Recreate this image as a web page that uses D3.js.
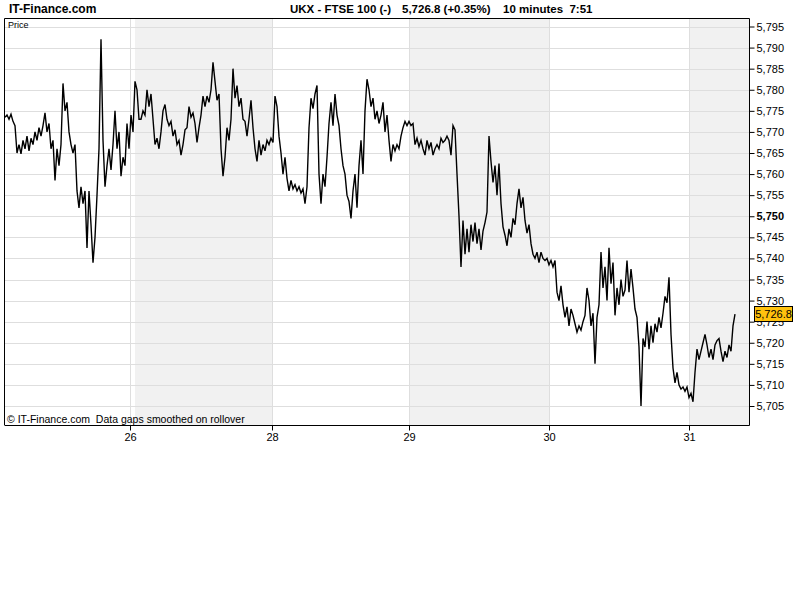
<!DOCTYPE html>
<html>
<head>
<meta charset="utf-8">
<script src="https://cdn.jsdelivr.net/npm/d3@7"></script>
<style>
body { margin: 0; background: #fff; }
text { font-family: "Liberation Sans", Arial, sans-serif; white-space: pre; }
</style>
</head>
<body>
<div id="chart"></div>
<script>
// 10 minute FTSE 100 prices, one sample every 2px, split by session
const s25 = [5773.5,5774,5773,5774.2,5772.5,5771.5,5765,5767,5764.8,5768,5766,5769,5765.5,5768.5,5767,
  5770,5768,5771,5769,5771.5,5774.5,5770,5772,5766,5768,5758.5,5766,5762,5767,
  5781.5,5775,5777,5770,5767,5765,5767,5756,5752,5757,5753,5756,5742.5,5756,5748,5739,5745,5755,5766,
  5792,5768,5757,5762,5766,5761,5767,5775,5766,5770,5759.5,5764,5762,5772,5766,5774,5770,5782];
const s26 = [5780,5773,5773,5775,5774,5780,5776,5779,5773,5767,5768.5,5766,5770,5775,5776.5,5773,5771.5,5772.5,5769,5770.5,
  5767,5768,5764.5,5767,5770.5,5771,5776,5773.5,5774.5,5772,5767.5,5771,
  5774,5778.5,5776,5778.5,5777,5780,5786.5,5782,5777.5,5779,5766,5759.5,5764,5771,5768,5773,5785,5778,5781,5776,
  5778,5773,5772.5,5769,5773,5777.5,5771,5766,5763,5768,5764.5,5767,5765.5,5768,5767,5768.5,5767.5];
const s28 = [5778.5,5776,5769,5765,5760,5764,5759,5756,5758.5,5756.5,5757.5,5756,5757,5755.5,5756.5,5753,5757,5771,5778,5775.5,
  5779,5781,5760,5753,5760,5757,5764,5772,5777,5771.5,5779,5774,5771.5,5766,5762,5760,5755,5753.5,5749.5,5756,
  5760,5752,5762,5768,5760,5775,5782.5,5780,5776,5778,5773,5775,5772,5774,5777,5770,5774,5768,5763,5767,
  5765.5,5767,5766,5769,5771,5772.5,5771.5,5772.5];
const s29 = [5771.5,5772,5767,5768.5,5766.5,5768,5766,5764.5,5768,5766,5767.5,5764.5,5766,5767,5766,5768.5,5767.5,5768,5769,5768,
  5764.5,5771.5,5770.5,5760,5750,5738,5749,5741,5747,5741.5,5748,5744,5748.5,5743.5,5747,5742,5746.5,5748.5,5751,5769,
  5763,5758,5762,5755,5762.5,5753,5747.5,5745.5,5743,5747,5745,5749.5,5748,5753,5756.5,5752,5754.5,5749,5746,5748,
  5743.5,5741,5740,5741.5,5739,5741.5,5740,5739.5,5740,5738.5];
const s30 = [5739.5,5738,5739.5,5732,5730,5733.5,5729,5726,5728.5,5724,5728,5726.5,5724.5,5722.5,5724,5723,5725,5726.5,5733,5730,
  5724,5727,5715,5726,5729,5741.5,5733,5738,5730,5742.5,5734,5739,5726.5,5733,5729,5735,5731,5732.5,5739.5,5732,
  5737.5,5733,5728,5726,5719,5705,5721,5719,5725,5718.5,5724,5720,5724.5,5722.5,5726,5723.5,5727,5731,5729.5,5735.5,
  5722,5714,5710.5,5713,5710,5709,5709.5,5708.5,5709.5,5707];
const s31 = [5708,5706,5713,5718.5,5716,5718,5720,5722,5719.5,5716.5,5718.5,5716,5719.5,5720.5,5721,5718,5715.5,5718,5716.5,5719.5,
  5718,5724,5726.8];

const prices = [].concat(s25, s26, s28, s29, s30, s31);
const lastPrice = 5726.8;

// day ticks, in sample positions
const dayTicks = [62.5, 133.5, 202, 272, 342];
const dayLabels = ["26", "28", "29", "30", "31"];
const shadedDays = [[65, 133.5], [202, 272], [342, 372]];

const priceTicks = [5705,5710,5715,5720,5725,5730,5735,5740,5745,5750,5755,5760,5765,5770,5775,5780,5785,5790,5795];

const plotLeft = 4, plotRight = 749, plotTop = 18, plotBottom = 425;

const svg = d3.select("#chart").append("svg")
    .attr("width", 800)
    .attr("height", 600);

svg.append("rect").attr("width", 800).attr("height", 600).attr("fill", "#fff");

const x = d3.scaleLinear().domain([0, prices.length - 1]).range([5, 735]);
const y = d3.scaleLinear().domain([5705, 5795]).range([406, 26.5]);

svg.append("clipPath").attr("id", "plot")
  .append("rect")
    .attr("x", plotLeft).attr("y", plotTop)
    .attr("width", plotRight - plotLeft).attr("height", plotBottom - plotTop);

const plot = svg.append("g").attr("clip-path", "url(#plot)");

plot.selectAll(".shade")
    .data(shadedDays)
  .enter().append("rect")
    .attr("class", "shade")
    .attr("x", d => Math.round(x(d[0])))
    .attr("y", plotTop)
    .attr("width", d => Math.round(x(d[1]) - x(d[0])))
    .attr("height", plotBottom - plotTop)
    .attr("fill", "#f1f1f1");

plot.selectAll(".hgrid")
    .data(priceTicks)
  .enter().append("line")
    .attr("x1", plotLeft).attr("x2", plotRight)
    .attr("y1", d => Math.round(y(d)) + 0.5)
    .attr("y2", d => Math.round(y(d)) + 0.5)
    .attr("stroke", "#dedede");

plot.selectAll(".vgrid")
    .data(dayTicks)
  .enter().append("line")
    .attr("x1", d => Math.round(x(d)) + 0.5)
    .attr("x2", d => Math.round(x(d)) + 0.5)
    .attr("y1", plotTop).attr("y2", plotBottom)
    .attr("stroke", "#dedede");

plot.append("path")
    .datum(prices)
    .attr("fill", "none")
    .attr("stroke", "#000")
    .attr("stroke-width", 1.4)
    .attr("stroke-linejoin", "miter")
    .attr("d", d3.line().x((d, i) => x(i)).y(d => y(d)));

// frame
svg.append("path")
    .attr("d", "M" + (plotLeft + 0.5) + "," + plotBottom + "V" + (plotTop + 0.5) + "H" + (plotRight + 0.5) + "V" + (plotBottom + 0.5) + "H" + (plotLeft + 0.5))
    .attr("fill", "none")
    .attr("stroke", "#000");

const yAxis = svg.append("g")
    .attr("transform", "translate(" + (plotRight + 0.5) + ",0)")
    .call(d3.axisRight(y).tickValues(priceTicks).tickSize(5).tickSizeOuter(0).tickPadding(2)
      .tickFormat(d3.format(",")));
yAxis.select(".domain").remove();
yAxis.selectAll("text")
    .attr("font-size", 11)
    .attr("font-family", "Liberation Sans, Arial, sans-serif")
    .attr("fill", "#000")
    .attr("font-weight", d => d === 5750 ? "bold" : "normal");
yAxis.selectAll("line").attr("stroke", "#000");

const xAxis = svg.append("g")
    .attr("transform", "translate(0," + (plotBottom + 0.5) + ")")
    .call(d3.axisBottom(x).tickValues(dayTicks).tickSize(5).tickSizeOuter(0).tickPadding(3)
      .tickFormat((d, i) => dayLabels[i]));
xAxis.select(".domain").remove();
xAxis.selectAll("text")
    .attr("font-size", 11)
    .attr("font-family", "Liberation Sans, Arial, sans-serif")
    .attr("fill", "#000");
xAxis.selectAll("line").attr("stroke", "#000");

// last price marker
const py = y(lastPrice);
svg.append("rect")
    .attr("x", 754.5).attr("y", Math.round(py) - 7.5)
    .attr("width", 38).attr("height", 15)
    .attr("fill", "#ffc20e")
    .attr("stroke", "#000");
svg.append("text")
    .attr("x", 773.5).attr("y", Math.round(py) + 4)
    .attr("text-anchor", "middle")
    .attr("font-size", 11)
    .text(d3.format(",.1f")(lastPrice));

// titles
svg.append("text").attr("x", 9).attr("y", 13)
    .attr("font-size", 12).attr("font-weight", "bold")
    .text("IT-Finance.com");
svg.append("text").attr("x", 290).attr("y", 13)
    .attr("font-size", 11.5).attr("font-weight", "bold")
    .text("UKX - FTSE 100 (-)");
svg.append("text").attr("x", 402).attr("y", 13)
    .attr("font-size", 11.5).attr("font-weight", "bold")
    .text("5,726.8 (+0.35%)");
svg.append("text").attr("x", 503).attr("y", 13)
    .attr("font-size", 11.5).attr("font-weight", "bold")
    .text("10 minutes  7:51");

svg.append("text").attr("x", 8).attr("y", 28)
    .attr("font-size", 9)
    .text("Price");

svg.append("text").attr("x", 7).attr("y", 423)
    .attr("font-size", 10.5)
    .text("\u00a9 IT-Finance.com  Data gaps smoothed on rollover");
</script>
</body>
</html>
